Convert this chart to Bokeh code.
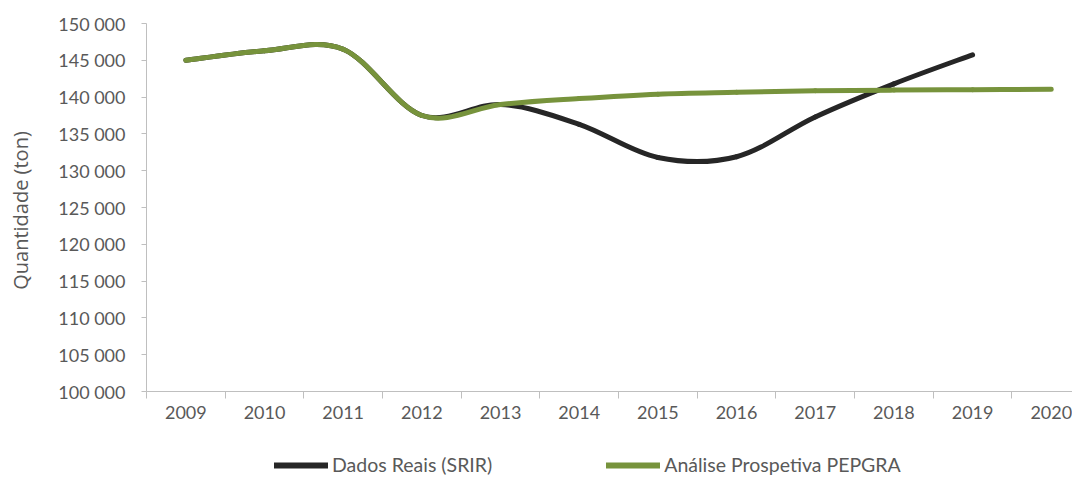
import numpy as np
from bokeh.plotting import figure
from bokeh.layouts import column, row
from bokeh.models import (Range1d, FixedTicker, Legend, LegendItem, Label,
                          ColumnDataSource)
from bokeh.embed import file_html
from bokeh.resources import INLINE

# ---------------- data ----------------
years = ["2009", "2010", "2011", "2012", "2013", "2014",
         "2015", "2016", "2017", "2018", "2019", "2020"]
dados_reais = [145000, 146300, 146500, 137500, 139000, 136300,
               131800, 131900, 137300, 141800, 145750]
analise_prospetiva = [145000, 146300, 146500, 137500, 139000, 139800,
                      140400, 140650, 140850, 140950, 141000, 141050]
y_ticks = [100000, 105000, 110000, 115000, 120000, 125000,
           130000, 135000, 140000, 145000, 150000]
series_names = ["Dados Reais (SRIR)", "Análise Prospetiva PEPGRA"]
y_title = "Quantidade (ton)"

TEXT = "#595959"
AXIS = "#BFBFBF"
BLACK = "#262626"
GREEN = "#77933C"
FONT = "Lato"


def smooth_source(vals):
    """Excel-like smoothed line: cubic Bezier segments between data points."""
    y = np.asarray(vals, dtype=float)
    x = np.arange(len(y), dtype=float)
    n = len(y)
    xp = np.concatenate([[x[0]], x, [x[-1]]])
    yp = np.concatenate([[y[0]], y, [y[-1]]])
    return ColumnDataSource(dict(
        x0=xp[1:n], y0=yp[1:n],
        x1=xp[2:n + 1], y1=yp[2:n + 1],
        cx0=xp[1:n] + (xp[2:n + 1] - xp[0:n - 1]) / 6.0,
        cy0=yp[1:n] + (yp[2:n + 1] - yp[0:n - 1]) / 6.0,
        cx1=xp[2:n + 1] - (xp[3:n + 2] - xp[1:n]) / 6.0,
        cy1=yp[2:n + 1] - (yp[3:n + 2] - yp[1:n]) / 6.0,
    ))


def blank(width, height):
    f = figure(width=width, height=height, output_backend="svg",
               toolbar_location=None, x_axis_type=None, y_axis_type=None,
               x_range=Range1d(0, 1), y_range=Range1d(0, 1),
               min_border=0, min_border_left=0, min_border_right=0,
               min_border_top=0, min_border_bottom=0)
    f.outline_line_color = None
    f.grid.grid_line_color = None
    return f


# ---------------- main chart ----------------
p = figure(width=1036, height=440, output_backend="svg", toolbar_location=None,
           x_range=Range1d(-0.5, 11.27), y_range=Range1d(100000, 150000),
           min_border_left=110, min_border_right=0,
           min_border_top=23, min_border_bottom=49)
p.outline_line_color = None
p.grid.grid_line_color = None

p.bezier(x0="x0", y0="y0", x1="x1", y1="y1", cx0="cx0", cy0="cy0",
         cx1="cx1", cy1="cy1", source=smooth_source(dados_reais),
         line_color=BLACK, line_width=5, line_cap="round")
p.bezier(x0="x0", y0="y0", x1="x1", y1="y1", cx0="cx0", cy0="cy0",
         cx1="cx1", cy1="cy1", source=smooth_source(analise_prospetiva),
         line_color=GREEN, line_width=5, line_cap="round")

# x axis (category-like)
xa = p.xaxis[0]
xa.ticker = FixedTicker(ticks=list(range(len(years))),
                        minor_ticks=[i - 0.5 for i in range(len(years) + 1)])
xa.major_label_overrides = {i: y for i, y in enumerate(years)}
xa.major_tick_line_color = None
xa.major_tick_out = 0
xa.major_tick_in = 0
xa.minor_tick_out = 7
xa.minor_tick_in = 0
xa.minor_tick_line_color = AXIS
xa.axis_line_color = AXIS
xa.major_label_text_font = FONT
xa.major_label_text_font_size = "18px"
xa.major_label_text_color = TEXT
xa.major_label_standoff = 7

# y axis
ya = p.yaxis[0]
ya.ticker = FixedTicker(ticks=y_ticks, minor_ticks=[])
ya.major_label_overrides = {v: f"{v:,}".replace(",", " ") for v in y_ticks}
ya.major_tick_out = 5
ya.major_tick_in = 0
ya.major_tick_line_color = AXIS
ya.minor_tick_line_color = None
ya.axis_line_color = AXIS
ya.major_label_text_font = FONT
ya.major_label_text_font_size = "18px"
ya.major_label_text_color = TEXT
ya.major_label_standoff = 16

# ---------------- y axis title (left strip) ----------------
p_lab = blank(36, 440)
p_lab.add_layout(Label(x=20, y=181, x_units="screen", y_units="screen",
                       text=y_title, angle=90, angle_units="deg",
                       text_align="center", text_baseline="middle",
                       text_font="Open Sans", text_font_size="20px",
                       text_color=TEXT))

# ---------------- legend (bottom strip) ----------------
# the series are drawn again here only to feed the legend; they fall outside
# this strip's ranges, so only their legend glyphs are visible
p_leg = blank(1072, 42)
l1 = p_leg.line(x=list(range(len(dados_reais))), y=dados_reais,
                line_color=BLACK, line_width=6, line_cap="round")
l2 = p_leg.line(x=list(range(len(analise_prospetiva))), y=analise_prospetiva,
                line_color=GREEN, line_width=6, line_cap="round")
legend = Legend(items=[LegendItem(label=series_names[0], renderers=[l1]),
                       LegendItem(label=series_names[1], renderers=[l2])],
                orientation="horizontal", location=(274, 6),
                glyph_width=54, glyph_height=20, label_height=20,
                label_standoff=4, spacing=114, padding=0, margin=0,
                border_line_color=None, background_fill_alpha=0,
                label_text_font=FONT, label_text_font_size="19.5px",
                label_text_color=TEXT)
p_leg.add_layout(legend, "center")

layout = column(row(p_lab, p), p_leg)
open("out.html", "w").write(file_html(layout, INLINE))
